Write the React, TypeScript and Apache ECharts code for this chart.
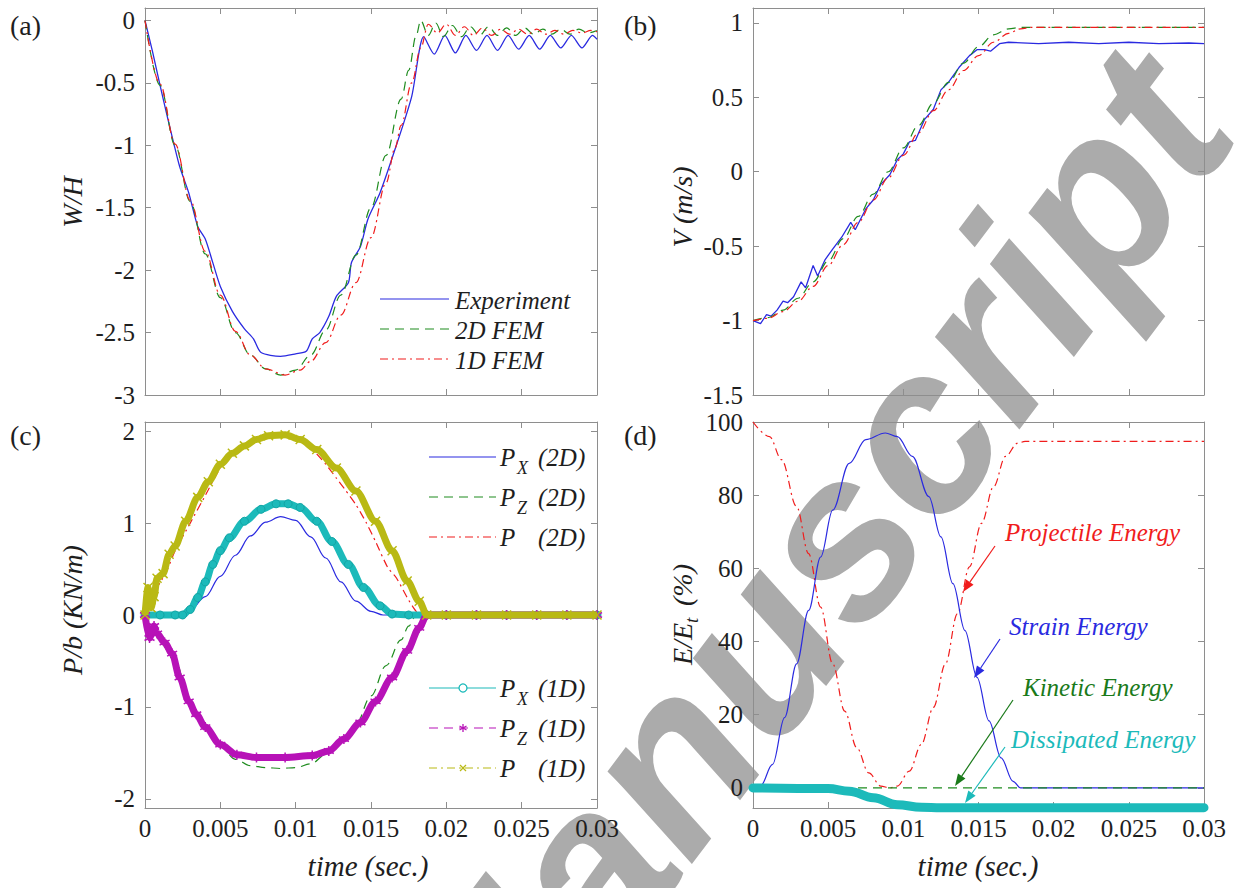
import React, { useEffect, useRef } from "react";
import * as echarts from "echarts";

// ---------------- Panel (a): W/H ----------------
const tExpA = [0, 0.0005, 0.001, 0.0015, 0.0019, 0.0023, 0.0029, 0.0035, 0.004, 0.0045, 0.005, 0.0058, 0.0066, 0.0072, 0.0077, 0.009, 0.01, 0.0107, 0.0111, 0.0116, 0.0122, 0.0127, 0.0135, 0.0137, 0.0143, 0.0148, 0.0156, 0.0166, 0.0177, 0.0185, 0.0192, 0.0199, 0.0206, 0.0213, 0.022, 0.0227, 0.0234, 0.0241, 0.0248, 0.0255, 0.0262, 0.0269, 0.0276, 0.0283, 0.029, 0.0297, 0.03];
const expWH = [0, -0.25, -0.52, -0.78, -0.98, -1.17, -1.38, -1.65, -1.75, -1.94, -2.13, -2.33, -2.47, -2.55, -2.66, -2.69, -2.67, -2.65, -2.55, -2.5, -2.37, -2.21, -2.1, -1.94, -1.81, -1.59, -1.38, -1.03, -0.61, -0.13, -0.27, -0.12, -0.26, -0.12, -0.24, -0.12, -0.24, -0.12, -0.23, -0.12, -0.23, -0.12, -0.22, -0.12, -0.22, -0.12, -0.15];
const tFem2A = [0, 0.001, 0.002, 0.003, 0.004, 0.005, 0.006, 0.007, 0.008, 0.009, 0.01, 0.011, 0.012, 0.013, 0.014, 0.015, 0.016, 0.017, 0.0175, 0.018, 0.0183, 0.0188, 0.0193, 0.0198, 0.0204, 0.021, 0.0216, 0.0222, 0.0228, 0.0234, 0.024, 0.0246, 0.0252, 0.0258, 0.0264, 0.027, 0.0276, 0.0282, 0.0288, 0.0294, 0.03];
const fem2WH = [0, -0.52, -1.0, -1.45, -1.87, -2.22, -2.5, -2.68, -2.79, -2.84, -2.8, -2.68, -2.48, -2.2, -1.88, -1.5, -1.08, -0.63, -0.4, -0.12, 0, -0.12, -0.02, -0.13, -0.04, -0.13, -0.05, -0.12, -0.05, -0.12, -0.06, -0.12, -0.06, -0.11, -0.07, -0.11, -0.07, -0.11, -0.07, -0.1, -0.08];
const tFem1A = [0, 0.001, 0.002, 0.003, 0.004, 0.005, 0.006, 0.007, 0.008, 0.0093, 0.0103, 0.011, 0.012, 0.013, 0.014, 0.015, 0.016, 0.0166, 0.017, 0.0177, 0.0183, 0.0188, 0.0194, 0.02, 0.0206, 0.0212, 0.0218, 0.0224, 0.023, 0.0236, 0.0242, 0.0248, 0.0254, 0.026, 0.0266, 0.0272, 0.0278, 0.0284, 0.029, 0.0296, 0.03];
const fem1WH = [0, -0.51, -0.99, -1.44, -1.85, -2.2, -2.49, -2.68, -2.79, -2.84, -2.8, -2.73, -2.58, -2.36, -2.1, -1.74, -1.3, -1.02, -0.84, -0.5, -0.22, -0.03, -0.1, -0.03, -0.12, -0.05, -0.12, -0.06, -0.12, -0.07, -0.11, -0.07, -0.11, -0.07, -0.11, -0.08, -0.11, -0.08, -0.1, -0.08, -0.09];

// ---------------- Panel (b): V (m/s) ----------------
const tExpB = [0, 0.0005, 0.0009, 0.0012, 0.0016, 0.002, 0.0023, 0.0027, 0.0032, 0.0035, 0.004, 0.0043, 0.0048, 0.0053, 0.0059, 0.0065, 0.0068, 0.0075, 0.008, 0.0085, 0.0091, 0.0096, 0.01, 0.0104, 0.0108, 0.0114, 0.012, 0.0125, 0.013, 0.0137, 0.0144, 0.0149, 0.0154, 0.0158, 0.0164, 0.017, 0.019, 0.021, 0.023, 0.025, 0.027, 0.029, 0.03];
const expV = [-1.0, -1.02, -0.96, -0.97, -0.93, -0.87, -0.88, -0.84, -0.74, -0.78, -0.63, -0.7, -0.59, -0.52, -0.44, -0.34, -0.39, -0.25, -0.19, -0.085, -0.02, 0.08, 0.12, 0.2, 0.21, 0.35, 0.42, 0.55, 0.6, 0.7, 0.78, 0.82, 0.82, 0.81, 0.86, 0.87, 0.86, 0.87, 0.86, 0.87, 0.86, 0.865, 0.86];
const tFem2B = [0, 0.001, 0.002, 0.003, 0.004, 0.005, 0.006, 0.007, 0.008, 0.009, 0.01, 0.011, 0.012, 0.013, 0.014, 0.015, 0.016, 0.017, 0.0178, 0.03];
const fem2V = [-1.0, -0.98, -0.93, -0.85, -0.74, -0.6, -0.45, -0.3, -0.15, 0.0, 0.16, 0.31, 0.46, 0.6, 0.73, 0.84, 0.92, 0.96, 0.97, 0.97];
const tFem1B = [0, 0.001, 0.002, 0.003, 0.004, 0.005, 0.006, 0.007, 0.008, 0.009, 0.01, 0.011, 0.012, 0.013, 0.014, 0.015, 0.016, 0.017, 0.0178, 0.0185, 0.03];
const fem1V = [-1.0, -0.985, -0.94, -0.87, -0.77, -0.63, -0.49, -0.34, -0.19, -0.04, 0.11, 0.26, 0.41, 0.55, 0.68, 0.78, 0.87, 0.93, 0.96, 0.97, 0.97];

// ---------------- Panel (c): P/b (KN/m) ----------------
const tPx2 = [0, 0.002, 0.003, 0.004, 0.005, 0.006, 0.007, 0.008, 0.009, 0.01, 0.011, 0.012, 0.013, 0.014, 0.015, 0.0158, 0.03];
const px2 = [0, 0, 0.05, 0.2, 0.42, 0.65, 0.86, 1.01, 1.07, 1.03, 0.85, 0.62, 0.36, 0.15, 0.04, 0, 0];
const tPz2 = [0, 0.0003, 0.0006, 0.001, 0.002, 0.003, 0.004, 0.005, 0.006, 0.007, 0.008, 0.009, 0.01, 0.011, 0.012, 0.013, 0.014, 0.015, 0.016, 0.017, 0.0175, 0.018, 0.03];
const pz2 = [0, -0.25, -0.1, -0.3, -0.5, -0.95, -1.22, -1.43, -1.57, -1.64, -1.66, -1.67, -1.66, -1.62, -1.52, -1.38, -1.19, -0.88, -0.55, -0.27, -0.12, 0, 0];
const tP2 = [0, 0.0002, 0.0004, 0.0006, 0.001, 0.0015, 0.002, 0.003, 0.004, 0.005, 0.006, 0.007, 0.008, 0.009, 0.01, 0.011, 0.012, 0.0127, 0.0133, 0.014, 0.0147, 0.0153, 0.0161, 0.0167, 0.0174, 0.018, 0.0185, 0.03];
const p2 = [0, 0.3, 0.05, 0.25, 0.35, 0.5, 0.7, 1.0, 1.3, 1.6, 1.78, 1.89, 1.95, 1.96, 1.92, 1.82, 1.64, 1.49, 1.36, 1.2, 1.0, 0.8, 0.52, 0.4, 0.19, 0.04, 0, 0];
const tPx1 = [0, 0.001, 0.002, 0.0025, 0.003, 0.0035, 0.004, 0.0045, 0.005, 0.0056, 0.0066, 0.0077, 0.0087, 0.0095, 0.0103, 0.0114, 0.0124, 0.0135, 0.0145, 0.0156, 0.0164, 0.0175, 0.0187, 0.02, 0.022, 0.024, 0.026, 0.028, 0.03];
const px1 = [0, 0, 0, 0, 0.06, 0.19, 0.36, 0.55, 0.7, 0.84, 1.02, 1.15, 1.21, 1.21, 1.17, 1.02, 0.8, 0.55, 0.3, 0.1, 0.01, 0, 0, 0, 0, 0, 0, 0, 0];
const tPz1 = [0, 0.0003, 0.0006, 0.0008, 0.0013, 0.0018, 0.0023, 0.0029, 0.0034, 0.004, 0.005, 0.0061, 0.0074, 0.0093, 0.0111, 0.0122, 0.0132, 0.0143, 0.0153, 0.0164, 0.0174, 0.0182, 0.0187, 0.02, 0.022, 0.024, 0.026, 0.028, 0.03];
const pz1 = [0, -0.25, -0.12, -0.2, -0.3, -0.42, -0.68, -0.94, -1.08, -1.22, -1.41, -1.52, -1.55, -1.55, -1.53, -1.48, -1.35, -1.17, -0.94, -0.68, -0.39, -0.14, 0, 0, 0, 0, 0, 0, 0];
const tP1 = [0, 0.0002, 0.0004, 0.0006, 0.0008, 0.0012, 0.0016, 0.002, 0.0027, 0.0035, 0.0042, 0.005, 0.0058, 0.0066, 0.0074, 0.0082, 0.0093, 0.0103, 0.0114, 0.0127, 0.014, 0.0153, 0.0164, 0.0174, 0.0182, 0.0187, 0.02, 0.022, 0.024, 0.026, 0.028, 0.03];
const p1 = [0, 0.3, 0.08, 0.2, 0.4, 0.45, 0.66, 0.75, 1.02, 1.28, 1.45, 1.64, 1.76, 1.84, 1.91, 1.95, 1.96, 1.91, 1.8, 1.6, 1.35, 1.02, 0.7, 0.37, 0.15, 0, 0, 0, 0, 0, 0, 0];

// ---------------- Panel (d): E/Et (%) ----------------
const tProj = [0, 0.0011, 0.0019, 0.0029, 0.0037, 0.0045, 0.0053, 0.0061, 0.0069, 0.0077, 0.0085, 0.0091, 0.0096, 0.0104, 0.0112, 0.012, 0.0128, 0.0136, 0.0144, 0.0152, 0.016, 0.0168, 0.0176, 0.0181, 0.03];
const proj = [100, 96, 89.7, 76.9, 64, 49.4, 33.9, 21, 11, 4.1, 0.5, 0, 0.5, 4.6, 11.9, 22, 33.9, 47.6, 60.4, 72.3, 82.3, 90.6, 94.2, 94.7, 94.7];
const tStrain = [0, 0.0005, 0.0013, 0.0021, 0.0029, 0.0037, 0.0045, 0.0053, 0.0064, 0.0075, 0.0088, 0.0096, 0.0106, 0.0117, 0.0125, 0.0133, 0.0141, 0.0149, 0.0157, 0.0165, 0.0173, 0.0178, 0.03];
const strain = [0, 0.5, 6.4, 19.2, 33.9, 48.5, 63.1, 75.9, 88.7, 95.2, 97, 96, 90.6, 79.6, 68.6, 55.8, 43, 30.2, 18.3, 8.2, 1.8, 0, 0];
const tKin = [0, 0.03];
const kin = [0, 0];
const tDiss = [0, 0.005, 0.0064, 0.008, 0.0096, 0.0112, 0.0125, 0.03];
const diss = [0, -0.2, -0.9, -2.7, -4.6, -5.3, -5.4, -5.4];

// ---------------- tick labels ----------------
const yTicksA = [-3, -2.5, -2, -1.5, -1, -0.5, 0];
const yTicksB = [-1.5, -1, -0.5, 0, 0.5, 1];
const yTicksC = [-2, -1, 0, 1, 2];
const yTicksD = [0, 20, 40, 60, 80, 100];

// ---------------- styling ----------------
const FONT = '"Liberation Serif", "Times New Roman", serif';
const SANS = '"Liberation Sans", Arial, sans-serif';
const AX = "#8e8e8e";
const TXT = "#1e1e1e";
const COL = {
  blue: "#2a2ae0",
  green: "#1f8c1f",
  red: "#f01c1c",
  cyan: "#1cbaba",
  magenta: "#b712b7",
  yellow: "#b9b914",
  dgreen: "#1a7a1a",
};
const DASH = [9, 6];
const DASHDOT = [8, 4, 2, 4];
const STAR = "path://M0,-5L0,5M-4.33,-2.5L4.33,2.5M-4.33,2.5L4.33,-2.5";
const CROSS = "path://M-4,-4L4,4M-4,4L4,-4";

const zip = (t: number[], v: number[]) => t.map((x, i) => [x, v[i]]);

const grids = [
  { left: 145, top: 8, width: 452, height: 387 },
  { left: 753, top: 8, width: 451, height: 387 },
  { left: 145, top: 422, width: 452, height: 386 },
  { left: 753, top: 422, width: 451, height: 386 },
];
const yRanges = [
  [-3, 0.1],
  [-1.5, 1.1],
  [-2.1, 2.1],
  [-5.5, 100],
];
const yTicks = [yTicksA, yTicksB, yTicksC, yTicksD];

function line(gi: number, t: number[], v: number[], color: string, type: any, extra: any = {}) {
  return {
    type: "line",
    xAxisIndex: 2 * gi,
    yAxisIndex: 2 * gi,
    data: zip(t, v),
    showSymbol: false,
    symbol: "none",
    silent: true,
    lineStyle: { color, width: 1.2, type },
    itemStyle: { color },
    ...extra,
  };
}

function txt(x: number, y: number, text: string, o: any = {}) {
  return {
    type: "text",
    x,
    y,
    z: o.z ?? 20,
    rotation: o.rot ?? 0,
    silent: true,
    style: {
      text,
      fill: o.fill ?? TXT,
      fontFamily: o.family ?? FONT,
      fontSize: o.size ?? 25,
      fontStyle: o.italic ? "italic" : "normal",
      fontWeight: o.weight ?? "normal",
      align: o.align ?? "left",
      verticalAlign: o.va ?? "middle",
      textAlign: o.align ?? "left",
      textVerticalAlign: o.va ?? "middle",
    },
  };
}

function seg(x1: number, y1: number, x2: number, y2: number, color: string, dash: any = null, w = 1.2) {
  return {
    type: "line",
    z: 20,
    silent: true,
    shape: { x1, y1, x2, y2 },
    style: { stroke: color, lineWidth: w, lineDash: dash },
  };
}

function arrow(x1: number, y1: number, x2: number, y2: number, color: string) {
  const dx = x2 - x1;
  const dy = y2 - y1;
  const L = Math.hypot(dx, dy);
  const ux = dx / L;
  const uy = dy / L;
  const hl = 12;
  const hw = 4.5;
  const bx = x2 - ux * hl;
  const by = y2 - uy * hl;
  return [
    seg(x1, y1, bx, by, color, null, 1.2),
    {
      type: "polygon",
      z: 20,
      silent: true,
      shape: { points: [[x2, y2], [bx - uy * hw, by + ux * hw], [bx + uy * hw, by - ux * hw]] },
      style: { fill: color },
    },
  ];
}

function buildOption() {
  const xAxis: any[] = [];
  const yAxis: any[] = [];
  grids.forEach((g, i) => {
    const base = {
      type: "value",
      gridIndex: i,
      min: 0,
      max: 0.03,
      interval: 0.005,
      splitLine: { show: false },
      axisLine: { show: true, onZero: false, lineStyle: { color: AX, width: 1 } },
      axisTick: { show: true, inside: true, length: 6, lineStyle: { color: AX } },
    };
    xAxis.push({
      ...base,
      position: "bottom",
      axisLabel: { show: i >= 2, color: TXT, fontFamily: FONT, fontSize: 25, margin: 8 },
    });
    xAxis.push({ ...base, position: "top", axisLabel: { show: false } });
    const ybase = {
      type: "value",
      gridIndex: i,
      min: yRanges[i][0],
      max: yRanges[i][1],
      splitLine: { show: false },
      axisLine: { show: true, onZero: false, lineStyle: { color: AX, width: 1 } },
      axisTick: { show: true, inside: true, length: 6, lineStyle: { color: AX }, customValues: yTicks[i] },
    };
    yAxis.push({
      ...ybase,
      position: "left",
      axisLabel: { show: true, color: TXT, fontFamily: FONT, fontSize: 25, margin: 10, customValues: yTicks[i] },
    });
    yAxis.push({ ...ybase, position: "right", axisLabel: { show: false } });
  });

  const smooth = { smooth: 0.35, smoothMonotone: "x" };
  const series: any[] = [
    // (a)
    line(0, tExpA, expWH, COL.blue, "solid", { smooth: 0.25, lineStyle: { color: COL.blue, width: 1.3 } }),
    line(0, tFem2A, fem2WH, COL.green, DASH, smooth),
    line(0, tFem1A, fem1WH, COL.red, DASHDOT, smooth),
    // (b)
    line(1, tExpB, expV, COL.blue, "solid", { lineStyle: { color: COL.blue, width: 1.3 } }),
    line(1, tFem2B, fem2V, COL.green, DASH, smooth),
    line(1, tFem1B, fem1V, COL.red, DASHDOT, smooth),
    // (c)
    line(2, tPx2, px2, COL.blue, "solid", smooth),
    line(2, tPz2, pz2, COL.green, DASH, smooth),
    line(2, tP2, p2, COL.red, DASHDOT, { smooth: 0.2 }),
    line(2, tPx1, px1, COL.cyan, "solid", {
      z: 3,
      smooth: 0.35,
      smoothMonotone: "x",
      showSymbol: true,
      symbol: "circle",
      symbolSize: 8,
      lineStyle: { color: COL.cyan, width: 7 },
      itemStyle: { color: COL.cyan, borderColor: "#13a5a5", borderWidth: 1 },
    }),
    line(2, tPz1, pz1, COL.magenta, "solid", {
      z: 4,
      smooth: 0.3,
      smoothMonotone: "x",
      showSymbol: true,
      symbol: STAR,
      symbolSize: 10,
      lineStyle: { color: COL.magenta, width: 7 },
      itemStyle: { color: COL.magenta, borderColor: COL.magenta, borderWidth: 1.5 },
    }),
    line(2, tP1, p1, COL.yellow, "solid", {
      z: 5,
      smooth: 0.3,
      smoothMonotone: "x",
      showSymbol: true,
      symbol: CROSS,
      symbolSize: 9,
      lineStyle: { color: COL.yellow, width: 7 },
      itemStyle: { color: COL.yellow, borderColor: COL.yellow, borderWidth: 1.5 },
    }),
    // (d)
    line(3, tProj, proj, COL.red, DASHDOT, smooth),
    line(3, tStrain, strain, COL.blue, "solid", smooth),
    line(3, tKin, kin, COL.green, DASH),
    line(3, tDiss, diss, COL.cyan, "solid", {
      smooth: 0.4,
      smoothMonotone: "x",
      clip: false,
      lineStyle: { color: COL.cyan, width: 9, cap: "round" },
    }),
  ];

  const g: any[] = [];
  // watermark
  g.push(
    txt(430, 1077, "Manuscript", {
      family: SANS,
      size: 233,
      italic: true,
      weight: "bold",
      fill: "#ababab",
      rot: (53 * Math.PI) / 180,
      z: -10,
    })
  );
  // panel labels
  g.push(txt(10, 25, "(a)", { size: 28 }));
  g.push(txt(624, 25, "(b)", { size: 28 }));
  g.push(txt(10, 435, "(c)", { size: 28 }));
  g.push(txt(624, 435, "(d)", { size: 28 }));
  // axis titles
  g.push(txt(72, 202, "W/H", { size: 28, italic: true, align: "center", rot: Math.PI / 2 }));
  g.push(txt(682, 207, "V (m/s)", { size: 28, italic: true, align: "center", rot: Math.PI / 2 }));
  g.push(txt(72, 610, "P/b (KN/m)", { size: 28, italic: true, align: "center", rot: Math.PI / 2 }));
  g.push({
    type: "group",
    x: 682,
    y: 617,
    rotation: Math.PI / 2,
    z: 20,
    children: [
      txt(-48, 0, "E/E", { size: 28, italic: true }),
      txt(-6, 9, "t", { size: 19, italic: true }),
      txt(4, 0, " (%)", { size: 28, italic: true }),
    ],
  });
  g.push(txt(368, 866, "time (sec.)", { size: 29, italic: true, align: "center" }));
  g.push(txt(978, 866, "time (sec.)", { size: 29, italic: true, align: "center" }));

  // legend (a)
  const la = [
    { y: 299, c: COL.blue, d: null, s: "Experiment" },
    { y: 329, c: COL.green, d: DASH, s: "2D FEM" },
    { y: 359, c: COL.red, d: DASHDOT, s: "1D FEM" },
  ];
  la.forEach((r) => {
    g.push(seg(380, r.y, 449, r.y, r.c, r.d));
    g.push(txt(455, r.y + 1, r.s, { size: 25, italic: true }));
  });

  // legend (c)
  const lc = [
    { y: 457, c: COL.blue, d: null, sub: "X", tag: "(2D)", m: "" },
    { y: 497, c: COL.green, d: DASH, sub: "Z", tag: "(2D)", m: "" },
    { y: 537, c: COL.red, d: DASHDOT, sub: "", tag: "(2D)", m: "" },
    { y: 688, c: COL.cyan, d: null, sub: "X", tag: "(1D)", m: "o" },
    { y: 728, c: COL.magenta, d: DASH, sub: "Z", tag: "(1D)", m: "*" },
    { y: 768, c: COL.yellow, d: DASHDOT, sub: "", tag: "(1D)", m: "x" },
  ];
  lc.forEach((r) => {
    g.push(seg(429, r.y, 496, r.y, r.c, r.d));
    const mx = 463;
    if (r.m === "o") {
      g.push({
        type: "circle",
        z: 21,
        silent: true,
        shape: { cx: mx, cy: r.y, r: 4 },
        style: { fill: "#ffffff", stroke: r.c, lineWidth: 1.3 },
      });
    } else if (r.m === "*") {
      g.push(seg(mx, r.y - 4, mx, r.y + 4, r.c, null, 1.3));
      g.push(seg(mx - 3.5, r.y - 2, mx + 3.5, r.y + 2, r.c, null, 1.3));
      g.push(seg(mx - 3.5, r.y + 2, mx + 3.5, r.y - 2, r.c, null, 1.3));
    } else if (r.m === "x") {
      g.push(seg(mx - 3, r.y - 3, mx + 3, r.y + 3, r.c, null, 1.3));
      g.push(seg(mx - 3, r.y + 3, mx + 3, r.y - 3, r.c, null, 1.3));
    }
    g.push(txt(500, r.y, "P", { size: 25, italic: true }));
    if (r.sub) g.push(txt(517, r.y + 11, r.sub, { size: 18, italic: true }));
    g.push(txt(538, r.y, r.tag, { size: 25, italic: true }));
  });

  // annotations (d)
  g.push(txt(1005, 532, "Projectile Energy", { size: 25, italic: true, fill: COL.red }));
  g.push(...arrow(995, 546, 963, 592, COL.red));
  g.push(txt(1009, 626, "Strain Energy", { size: 25, italic: true, fill: COL.blue }));
  g.push(...arrow(1000, 639, 974, 678, COL.blue));
  g.push(txt(1023, 687, "Kinetic Energy", { size: 25, italic: true, fill: COL.dgreen }));
  g.push(...arrow(1013, 700, 955, 786, COL.dgreen));
  g.push(txt(1011, 739, "Dissipated Energy", { size: 25, italic: true, fill: COL.cyan }));
  g.push(...arrow(1005, 747, 965, 803, COL.cyan));

  return {
    animation: false,
    backgroundColor: "#ffffff",
    grid: grids.map((gg) => ({ ...gg, containLabel: false })),
    xAxis,
    yAxis,
    series,
    graphic: { elements: g },
  };
}

export default function App() {
  const ref = useRef<HTMLDivElement>(null);
  useEffect(() => {
    if (!ref.current) return;
    const chart = echarts.init(ref.current, null, { renderer: "svg" });
    chart.setOption(buildOption() as any);
    return () => {
      chart.dispose();
    };
  }, []);
  return (
    <div
      ref={ref}
      style={{ position: "fixed", left: 0, top: 0, width: 1236, height: 888, background: "#ffffff" }}
    />
  );
}
